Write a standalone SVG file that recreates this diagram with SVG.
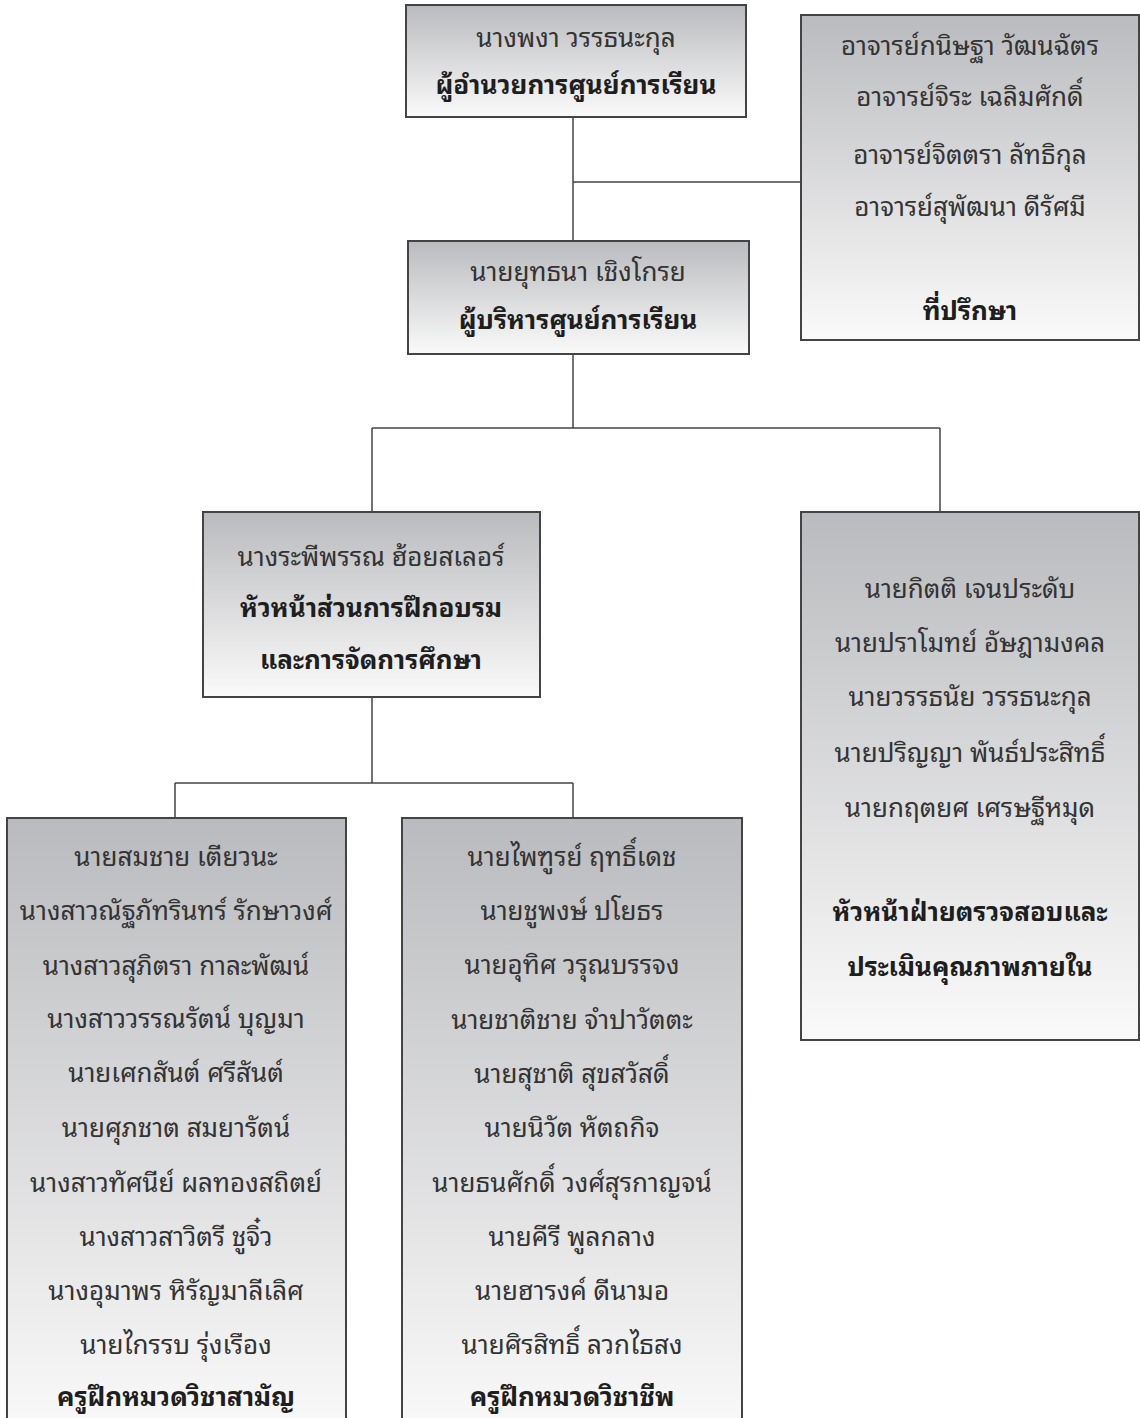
<svg xmlns="http://www.w3.org/2000/svg" width="1140" height="1418" viewBox="0 0 1140 1418">
<defs>
<linearGradient id="g" x1="0" y1="0" x2="0" y2="1">
<stop offset="0" stop-color="#babbbe"/>
<stop offset="1" stop-color="#fafafa"/>
</linearGradient>
<style>
.box{fill:url(#g);stroke:#444;stroke-width:2}
.c{fill:none;stroke:#444;stroke-width:1.5}
text{font-family:"Noto Sans Thai Looped","Noto Serif Thai","Norasi","Kinnari","Loma","Noto Sans Thai","Liberation Serif",serif;font-size:26px;text-anchor:middle;fill:#333}
.b{font-weight:bold;fill:#1e1e1e}
</style>
</defs>
<rect width="1140" height="1418" fill="#fff"/>
<g id="connectors">
<path class="c" d="M573 117V241M573 182H801M573 354V428M372 428H940M372 428V512M940 428V512M372 697V783M175 783H573M175 783V818M573 783V818"/>
</g>
<g id="director">
<rect class="box" x="406" y="5" width="340" height="112"/>
<text x="576" y="47">นางพงา วรรธนะกุล</text>
<text class="b" x="576" y="94">ผู้อำนวยการศูนย์การเรียน</text>
</g>
<g id="advisors">
<rect class="box" x="801" y="15" width="338" height="325"/>
<text x="970" y="55">อาจารย์กนิษฐา วัฒนฉัตร</text>
<text x="970" y="106">อาจารย์จิระ เฉลิมศักดิ์</text>
<text x="970" y="164">อาจารย์จิตตรา ลัทธิกุล</text>
<text x="970" y="216">อาจารย์สุพัฒนา ดีรัศมี</text>
<text class="b" x="970" y="320">ที่ปรึกษา</text>
</g>
<g id="manager">
<rect class="box" x="408" y="241" width="341" height="113"/>
<text x="578" y="281">นายยุทธนา เชิงโกรย</text>
<text class="b" x="578" y="329">ผู้บริหารศูนย์การเรียน</text>
</g>
<g id="training">
<rect class="box" x="203" y="512" width="337" height="185"/>
<text x="371" y="566">นางระพีพรรณ ฮ้อยสเลอร์</text>
<text class="b" x="371" y="617">หัวหน้าส่วนการฝึกอบรม</text>
<text class="b" x="371" y="669">และการจัดการศึกษา</text>
</g>
<g id="quality">
<rect class="box" x="801" y="512" width="338" height="528"/>
<text x="970" y="598">นายกิตติ เจนประดับ</text>
<text x="970" y="652">นายปราโมทย์ อัษฎามงคล</text>
<text x="970" y="706">นายวรรธนัย วรรธนะกุล</text>
<text x="970" y="762">นายปริญญา พันธ์ประสิทธิ์</text>
<text x="970" y="817">นายกฤตยศ เศรษฐีหมุด</text>
<text class="b" x="970" y="921">หัวหน้าฝ่ายตรวจสอบและ</text>
<text class="b" x="970" y="976">ประเมินคุณภาพภายใน</text>
</g>
<g id="general">
<rect class="box" x="7" y="818" width="339" height="620"/>
<text x="176" y="866">นายสมชาย เตียวนะ</text>
<text x="176" y="920">นางสาวณัฐภัทรินทร์ รักษาวงศ์</text>
<text x="176" y="975">นางสาวสุภิตรา กาละพัฒน์</text>
<text x="176" y="1028">นางสาววรรณรัตน์ บุญมา</text>
<text x="176" y="1082">นายเศกสันต์ ศรีสันต์</text>
<text x="176" y="1137">นายศุภชาต สมยารัตน์</text>
<text x="176" y="1192">นางสาวทัศนีย์ ผลทองสถิตย์</text>
<text x="176" y="1246">นางสาวสาวิตรี ชูจิ๋ว</text>
<text x="176" y="1300">นางอุมาพร หิรัญมาลีเลิศ</text>
<text x="176" y="1354">นายไกรรบ รุ่งเรือง</text>
<text class="b" x="176" y="1406">ครูฝึกหมวดวิชาสามัญ</text>
</g>
<g id="vocational">
<rect class="box" x="402" y="818" width="340" height="620"/>
<text x="572" y="866">นายไพฑูรย์ ฤทธิ์เดช</text>
<text x="572" y="920">นายชูพงษ์ ปโยธร</text>
<text x="572" y="974">นายอุทิศ วรุณบรรจง</text>
<text x="572" y="1029">นายชาติชาย จำปาวัตตะ</text>
<text x="572" y="1083">นายสุชาติ สุขสวัสดิ์</text>
<text x="572" y="1137">นายนิวัต หัตถกิจ</text>
<text x="572" y="1192">นายธนศักดิ์ วงศ์สุรกาญจน์</text>
<text x="572" y="1246">นายคีรี พูลกลาง</text>
<text x="572" y="1300">นายฮารงค์ ดีนามอ</text>
<text x="572" y="1354">นายศิรสิทธิ์ ลวกไธสง</text>
<text class="b" x="572" y="1406">ครูฝึกหมวดวิชาชีพ</text>
</g>
</svg>
